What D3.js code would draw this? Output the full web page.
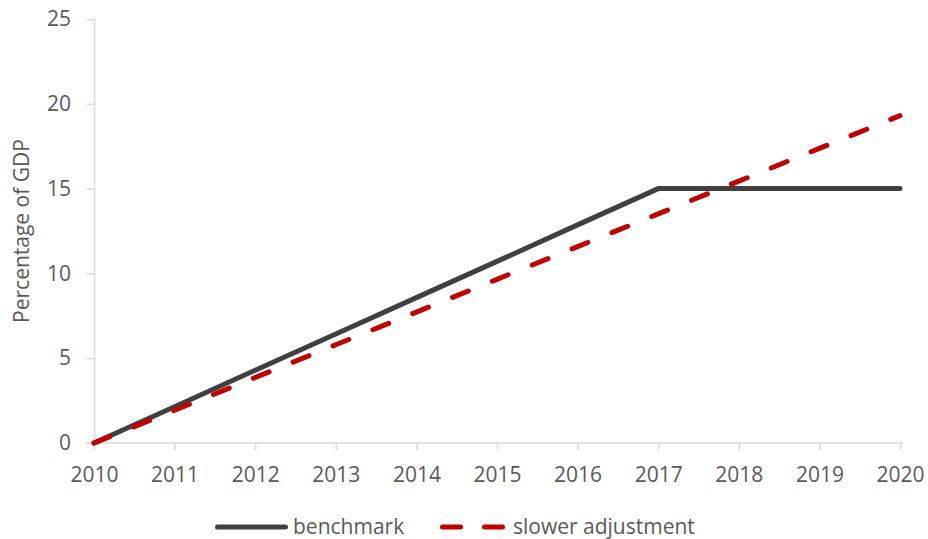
<!DOCTYPE html>
<html>
<head>
<meta charset="utf-8">
<script src="https://cdn.jsdelivr.net/npm/d3@7"></script>
<style>
  html, body { margin: 0; padding: 0; background: #fff; }
  svg { display: block; font-family: "Open Sans", sans-serif; }
</style>
</head>
<body>
<svg id="chart" width="928" height="539"></svg>
<script>
// Years on the horizontal axis
const years = [2010, 2011, 2012, 2013, 2014, 2015, 2016, 2017, 2018, 2019, 2020];
// Debt path, percentage of GDP
const benchmark = [0, 2.14, 4.29, 6.43, 8.57, 10.71, 12.86, 15, 15, 15, 15];
const slowerAdjustment = [0, 1.93, 3.86, 5.79, 7.72, 9.65, 11.58, 13.51, 15.44, 17.37, 19.3];
const yTicks = [0, 5, 10, 15, 20, 25];
const seriesNames = ["benchmark", "slower adjustment"];

const svg = d3.select("#chart");
const textColor = "#595959";
const axisColor = "#d9d9d9";
const fontSize = 21;

const x = d3.scaleLinear().domain([2010, 2020]).range([94, 900]);
const y = d3.scaleLinear().domain([0, 25]).range([443, 19]);

// Y axis
const yAxis = svg.append("g")
  .attr("transform", `translate(${x(2010)},0)`)
  .call(d3.axisLeft(y).tickValues(yTicks).tickSize(7).tickPadding(16).tickSizeOuter(0));
// X axis
const xAxis = svg.append("g")
  .attr("transform", `translate(0,${y(0)})`)
  .call(d3.axisBottom(x).tickValues(years).tickFormat(d3.format("d")).tickSize(7).tickPadding(17).tickSizeOuter(0));

[yAxis, xAxis].forEach(g => {
  g.select(".domain").attr("stroke", axisColor).attr("stroke-width", 1.5);
  g.selectAll(".tick line").attr("stroke", axisColor).attr("stroke-width", 1.5);
  g.selectAll(".tick text").attr("fill", textColor).attr("font-size", fontSize)
    .attr("font-family", "'Open Sans', sans-serif");
});
// Extend the x axis line slightly at both ends
xAxis.select(".domain").attr("d", `M${x(2010) - 8},0H${x(2020) + 3}`);

// Y axis title
svg.append("text")
  .attr("transform", `translate(28.5,231) rotate(-90)`)
  .attr("text-anchor", "middle")
  .attr("fill", textColor)
  .attr("font-size", fontSize)
  .text("Percentage of GDP");

const line = d3.line().x((d, i) => x(years[i])).y(d => y(d));

svg.append("path")
  .datum(benchmark)
  .attr("d", line)
  .attr("fill", "none")
  .attr("stroke", "#404040")
  .attr("stroke-width", 5)
  .attr("stroke-linejoin", "round")
  .attr("stroke-linecap", "round");

svg.append("path")
  .datum(slowerAdjustment)
  .attr("d", line)
  .attr("fill", "none")
  .attr("stroke", "#C00000")
  .attr("stroke-width", 5)
  .attr("stroke-linecap", "round")
  .attr("stroke-dasharray", "17,26");

// Legend
const legend = svg.append("g");
legend.append("line")
  .attr("x1", 217.5).attr("x2", 285.5).attr("y1", 527).attr("y2", 527)
  .attr("stroke", "#404040").attr("stroke-width", 5).attr("stroke-linecap", "round");
legend.append("text")
  .attr("x", 293).attr("y", 534)
  .attr("fill", textColor).attr("font-size", fontSize)
  .text(seriesNames[0]);
legend.append("line")
  .attr("x1", 442.5).attr("x2", 502.5).attr("y1", 527).attr("y2", 527)
  .attr("stroke", "#C00000").attr("stroke-width", 5).attr("stroke-linecap", "round")
  .attr("stroke-dasharray", "18,24");
legend.append("text")
  .attr("x", 513).attr("y", 534)
  .attr("fill", textColor).attr("font-size", fontSize)
  .text(seriesNames[1]);
</script>
</body>
</html>
